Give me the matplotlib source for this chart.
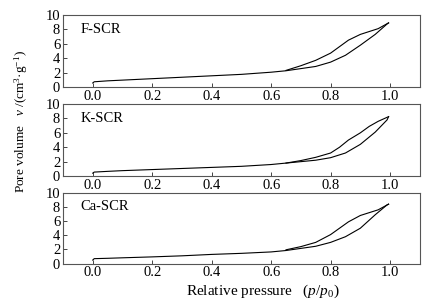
import matplotlib.pyplot as plt

plt.rcParams['font.family'] = ['Liberation Serif', 'DejaVu Serif']
plt.rcParams['mathtext.fontset'] = 'custom'
plt.rcParams['mathtext.rm'] = 'Liberation Serif'
plt.rcParams['mathtext.it'] = 'Liberation Serif:italic'

# relative pressure points (adsorption / desorption)
p_ads = [0.0, 0.005, 0.05, 0.1, 0.2, 0.3, 0.4, 0.5, 0.6, 0.65, 0.7, 0.75, 0.8, 0.85, 0.9, 0.95, 0.99, 0.995]
p_des = [0.995, 0.96, 0.93, 0.9, 0.86, 0.83, 0.8, 0.75, 0.7, 0.65]

f_ads = [0.55, 0.72, 0.85, 0.95, 1.15, 1.35, 1.55, 1.75, 2.05, 2.25, 2.55, 2.85, 3.45, 4.4, 5.8, 7.3, 8.75, 8.9]
f_des = [8.9, 8.1, 7.7, 7.3, 6.5, 5.6, 4.7, 3.7, 2.95, 2.3]

k_ads = [0.4, 0.55, 0.65, 0.75, 0.9, 1.05, 1.2, 1.35, 1.6, 1.8, 2.0, 2.2, 2.55, 3.2, 4.4, 6.1, 7.8, 8.25]
k_des = [8.25, 7.6, 6.9, 6.0, 5.0, 4.0, 3.2, 2.6, 2.15, 1.8]

ca_ads = [0.5, 0.7, 0.75, 0.82, 0.95, 1.1, 1.3, 1.45, 1.65, 1.85, 2.15, 2.45, 3.0, 3.8, 5.0, 6.9, 8.3, 8.4]
ca_des = [8.4, 7.6, 7.2, 6.8, 5.9, 5.0, 4.1, 3.0, 2.4, 1.95]

samples = ['F-SCR', 'K-SCR', 'Ca-SCR']
ads_data = [f_ads, k_ads, ca_ads]
des_data = [f_des, k_des, ca_des]

fig = plt.figure(figsize=(4.33, 3.03), dpi=100)

# axes boxes in figure fractions (left, bottom, width, height)
boxes = [(0.1455, 0.713, 0.824, 0.2376),
         (0.1455, 0.419, 0.824, 0.2376),
         (0.1455, 0.130, 0.824, 0.2336)]

for box, name, ya, yd in zip(boxes, samples, ads_data, des_data):
    ax = fig.add_axes(box)
    ax.plot(p_ads, ya, color='black', linewidth=0.8)
    ax.plot(p_des, yd, color='black', linewidth=0.8)
    ax.set_xlim(-0.1, 1.1)
    ax.set_ylim(0, 10)
    ax.set_xticks([0.0, 0.2, 0.4, 0.6, 0.8, 1.0])
    ax.set_xticklabels(['0.0', '0.2', '0.4', '0.6', '0.8', '1.0'])
    ax.set_yticks([0, 2, 4, 6, 8, 10])
    ax.tick_params(direction='in', length=3, width=0.7, labelsize=10.5, pad=2,
                   color='#444444')
    for s in ax.spines.values():
        s.set_color('#555555')
        s.set_linewidth(0.8)
    ax.text(-0.04, 8.0, name, fontsize=10.5, va='center', ha='left')

fig.text(0.05, 0.6, 'Pore volume   $v$ /(cm$^3$·g$^{-1}$)', rotation=90,
         fontsize=9.5, ha='center', va='center')
fig.text(0.608, 0.038, 'Relative pressure   $(p/p_0)$', fontsize=11,
         ha='center', va='center')

fig.savefig('out.png', dpi=100)
